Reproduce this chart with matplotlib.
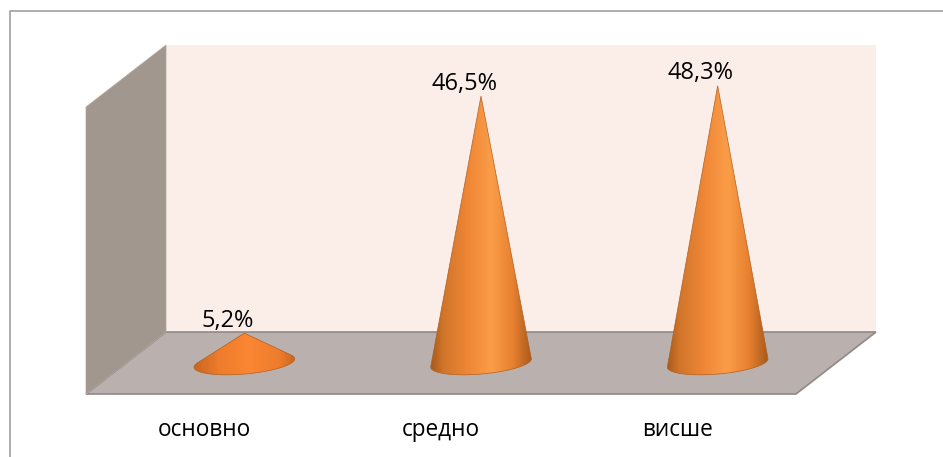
import numpy as np
import matplotlib.pyplot as plt
from matplotlib.colors import LinearSegmentedColormap
from matplotlib.patches import Polygon

plt.rcParams['font.family'] = ['Open Sans', 'DejaVu Sans']

categories = ['основно', 'средно', 'висше']
values = [5.2, 46.5, 48.3]
value_labels = ['5,2%', '46,5%', '48,3%']

W, H = 943, 457
fig = plt.figure(figsize=(W / 100, H / 100), dpi=100, facecolor='white')
# front plane of the 3d box, the walls go back from it by depth
ax = fig.add_axes([86 / W, 1 - 394 / H, 710 / W, 287 / H])
ax.set_xlim(-0.5, 2.5)
ax.set_ylim(0, 50)
ax.patch.set_visible(False)
for s in ax.spines.values():
    s.set_visible(False)

px_x = 3 / 710
px_y = 50 / 287
depth_x = 80 * px_x
depth_y = 62 * px_y

# outer frame, only left and top are inside the picture
fig.add_artist(plt.Line2D([10 / W, 10 / W, 1],
                          [0, 1 - 10.5 / H, 1 - 10.5 / H],
                          color='#a0a0a0', lw=1.2))

x0, x1 = -0.5, 2.5
ax.add_patch(Polygon([(x0 + depth_x, depth_y), (x1 + depth_x, depth_y),
                      (x1 + depth_x, 50 + depth_y), (x0 + depth_x, 50 + depth_y)],
                     facecolor='#fbede8', edgecolor='none', clip_on=False, zorder=1))
ax.add_patch(Polygon([(x0, 0), (x1, 0), (x1 + depth_x, depth_y), (x0 + depth_x, depth_y)],
                     facecolor='#bab0ae', edgecolor='#8f8987', lw=1.2,
                     clip_on=False, zorder=2))
ax.add_patch(Polygon([(x0, 0), (x0 + depth_x, depth_y), (x0 + depth_x, 50 + depth_y), (x0, 50)],
                     facecolor='#a1978f', edgecolor='#b0a8a2', lw=0.5,
                     clip_on=False, zorder=3))

tall = LinearSegmentedColormap.from_list('tall', [
    (0.0, '#a85a1c'), (0.12, '#d0752a'), (0.35, '#ee8535'),
    (0.6, '#fb9d48'), (0.82, '#e67f2f'), (1.0, '#a85a1c')])
flat = LinearSegmentedColormap.from_list('flat', [
    (0.0, '#c9661f'), (0.25, '#ee7c2c'), (0.55, '#fb8633'),
    (0.85, '#ee7c2c'), (1.0, '#c9661f')])

semi_major = 50.5
semi_minor = 11
tilt = np.radians(5)
half_w = semi_major * px_x
grad = np.linspace(0, 1, 256).reshape(1, -1)

for i, v in enumerate(values):
    cx = i + depth_x * 0.5
    cy = depth_y * 0.5

    # base ellipse of the cone in pixels, slightly tilted up to the right
    t = np.linspace(0, 2 * np.pi, 360, endpoint=False)
    ex = semi_major * np.cos(t) * np.cos(tilt) - semi_minor * np.sin(t) * np.sin(tilt)
    ey = semi_major * np.cos(t) * np.sin(tilt) + semi_minor * np.sin(t) * np.cos(tilt)

    # sides of the cone touch the ellipse where seen from the apex it is widest
    apex_h = v / px_y
    angle = np.arctan2(ex, apex_h - ey)
    left, right = np.argmin(angle), np.argmax(angle)
    steps = (right - left) % len(t)
    arc = (left + np.arange(steps + 1)) % len(t)
    outline = [(cx, cy + v)] + list(zip(cx + ex[arc] * px_x, cy + ey[arc] * px_y))

    img = ax.imshow(grad, cmap=tall if v > 10 else flat, aspect='auto', zorder=5,
                    extent=(cx - half_w, cx + half_w, cy - 3, cy + v))
    cone = Polygon(outline, closed=True, facecolor='none',
                   edgecolor='#b3601f', lw=0.5, zorder=6, clip_on=False)
    ax.add_patch(cone)
    img.set_clip_box(fig.bbox)
    img.set_clip_path(cone)

    # labels sit a bit left of the apex
    ax.text(cx - 17 * px_x, cy + v + 12.5 * px_y, value_labels[i], ha='center', va='center',
            fontsize=17, color='black', zorder=7)

ax.set_xlim(-0.5, 2.5)
ax.set_ylim(0, 50)
ax.set_yticks([])
ax.set_xticks(range(len(categories)))
ax.set_xticklabels(categories, fontsize=16.3)
ax.tick_params(axis='x', length=0, pad=17)

fig.savefig('out.png', dpi=100)
